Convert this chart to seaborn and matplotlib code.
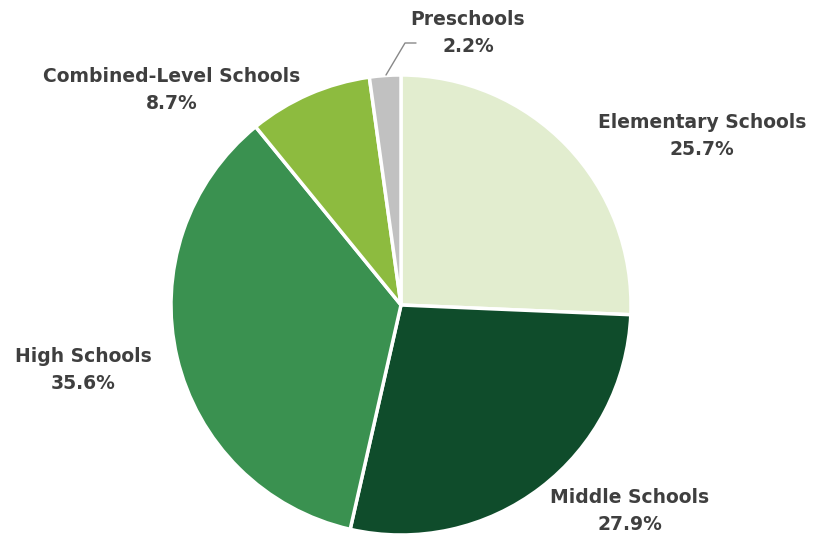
import matplotlib
matplotlib.use("Agg")
import matplotlib.pyplot as plt
import seaborn as sns

sns.set_theme(style="white")
plt.rcParams["font.family"] = ["DejaVu Sans"]

categories = ["Elementary Schools", "Middle Schools", "High Schools",
              "Combined-Level Schools", "Preschools"]
shares = [25.7, 27.9, 35.6, 8.7, 2.2]
colors = ["#e2edcf", "#0f4c2b", "#3a9150", "#8dbb3f", "#c1c1c1"]

W, H = 817, 541
fig = plt.figure(figsize=(W / 100, H / 100), dpi=100)
ax = fig.add_axes([0, 0, 1, 1])

cx, cy, r = 401, H - 305, 230
ax.pie(shares, colors=colors, startangle=90, counterclock=False,
       center=(cx, cy), radius=r, frame=True,
       wedgeprops=dict(edgecolor="white", linewidth=2.5))
ax.set_xlim(0, W)
ax.set_ylim(0, H)
ax.set_aspect("equal")
ax.axis("off")

# label anchor points (pixel space, y measured from the top)
label_pos = {
    "Elementary Schools": (702, 136),
    "Middle Schools": (630, 511),
    "High Schools": (83, 370),
    "Combined-Level Schools": (172, 90),
    "Preschools": (468, 33),
}
txt_color = "#3f3f3f"
for name, val in zip(categories, shares):
    x, y = label_pos[name]
    ax.text(x, H - y, f"{name}\n{val}%", ha="center", va="center",
            fontsize=13.5, fontweight="bold", color=txt_color,
            linespacing=1.5)

# leader line for the small slice
ax.plot([386, 405, 416], [H - 75, H - 43, H - 43], color="#888888", lw=1)

fig.savefig("out.png", dpi=100)
